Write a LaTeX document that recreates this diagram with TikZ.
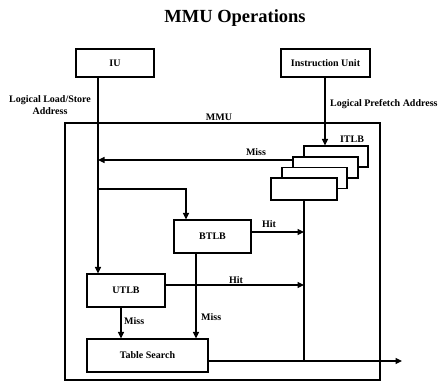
\documentclass[tikz,border=0pt]{standalone}
\usepackage{fontspec}
\setmainfont{Liberation Serif}
\usetikzlibrary{arrows.meta}
\begin{document}
\begin{tikzpicture}[x=1pt,y=-1pt,
  box/.style={draw,line width=1.1pt,fill=white,inner sep=0pt,font=\fontsize{10}{11}\selectfont\bfseries},
  lbl/.style={inner sep=0pt,font=\fontsize{10}{12.5}\selectfont\bfseries},
  wire/.style={line width=1.1pt},
  arr/.style={wire,-{Triangle[length=6.5pt,width=6pt]}}]
\useasboundingbox (0,0) rectangle (441,382);
\node[font=\fontsize{18.5}{20}\selectfont\bfseries] (title) at (235,18) {MMU Operations};
% outer boxes
\node[box,minimum width=315pt,minimum height=257pt] (mmu) at (222.5,251.5) {};
\node[box,minimum width=78pt,minimum height=28pt] (iu) at (115,63) {IU};
\node[box,minimum width=89pt,minimum height=28pt] (instr) at (325.5,63) {Instruction Unit};
% labels
\node[lbl,align=center] (lsl) at (50,105) {Logical Load/Store\\Address};
\node[lbl,anchor=west] (lpa) at (330,104) {Logical Prefetch Address};
\node[lbl] (mmul) at (219,117) {MMU};
% ITLB stack
\node[box,minimum width=64pt,minimum height=21pt] (t1) at (336,156.5) {};
\node[box,minimum width=65pt,minimum height=21pt] (t2) at (325.5,167.5) {};
\node[box,minimum width=65pt,minimum height=21pt] (t3) at (314.5,178) {};
\node[box,minimum width=66pt,minimum height=22pt] (t4) at (304,189) {};
\node[lbl] (itlbl) at (352,139) {ITLB};
% TLBs
\node[box,minimum width=77pt,minimum height=33pt] (btlb) at (212.5,236.5) {BTLB};
\node[box,minimum width=78pt,minimum height=33pt] (utlb) at (126,290.5) {UTLB};
\node[box,minimum width=121pt,minimum height=33pt] (ts) at (147.5,355.5) {Table Search};
% coordinates
\coordinate (iuo) at (98,77);
\coordinate (missend) at (98,160);
\coordinate (br) at (98,189);
\coordinate (brc) at (186,189);
\coordinate (itlbo) at (304,200);
\coordinate (bhit) at (304,232);
\coordinate (uhit) at (304,285);
\coordinate (join) at (304,361);
\coordinate (out) at (402,361);
% connectors
\draw[arr] (iuo) -- (iuo |- utlb.north);
\draw[arr] (instr.south -| 325,0) -- (t1.north -| 325,0);
\draw[arr] (t2.west |- missend) -- (missend);
\draw[arr] (br) -- (brc) -- (brc |- btlb.north);
\draw[wire] (itlbo) -- (join);
\draw[arr] (btlb.east |- bhit) -- (bhit);
\draw[arr] (utlb.east |- uhit) -- (uhit);
\draw[arr] (btlb.south -| 196,0) -- (ts.north -| 196,0);
\draw[arr] (utlb.south -| 121,0) -- (ts.north -| 121,0);
\draw[arr] (ts.east |- join) -- (out);
% connector labels
\node[lbl] (missl) at (256,152) {Miss};
\node[lbl] (bhitl) at (269,224) {Hit};
\node[lbl] (uhitl) at (236,280) {Hit};
\node[lbl,anchor=west] (bmissl) at (201,317) {Miss};
\node[lbl,anchor=west] (umissl) at (124,321) {Miss};
\end{tikzpicture}
\end{document}
